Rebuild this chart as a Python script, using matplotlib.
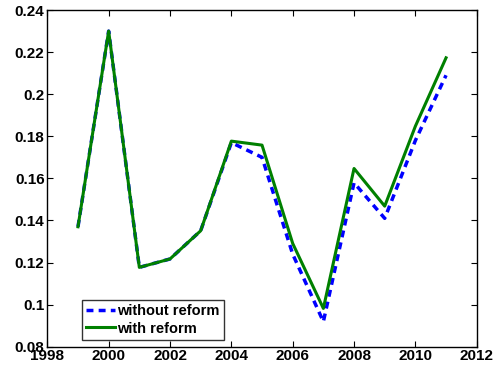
import matplotlib
matplotlib.use("Agg")
import matplotlib.pyplot as plt

years = [1999, 2000, 2001, 2002, 2003, 2004, 2005, 2006, 2007, 2008, 2009, 2010, 2011]
without_reform = [0.137, 0.230, 0.1177, 0.1217, 0.1351, 0.1770, 0.1700, 0.1240, 0.0919, 0.1579, 0.1410, 0.1780, 0.2090]
with_reform = [0.137, 0.230, 0.1177, 0.1217, 0.1351, 0.1777, 0.1758, 0.1291, 0.0982, 0.1647, 0.1468, 0.1848, 0.2173]
xticks = [1998, 2000, 2002, 2004, 2006, 2008, 2010, 2012]
yticks = [0.08, 0.1, 0.12, 0.14, 0.16, 0.18, 0.2, 0.22, 0.24]
ytick_labels = ["0.08", "0.1", "0.12", "0.14", "0.16", "0.18", "0.2", "0.22", "0.24"]

plt.rcParams['font.family'] = ['Liberation Sans', 'DejaVu Sans']
plt.rcParams['font.weight'] = 'bold'

fig = plt.figure(figsize=(4.97, 3.72), dpi=100)
ax = fig.add_axes([0.0952, 0.068, 0.8640, 0.905])

ax.plot(years, without_reform, color='#0000ff', linestyle=(0, (2, 1.5)), linewidth=2.5, label='without reform')
ax.plot(years, with_reform, color='#008000', linestyle='-', linewidth=2.2, label='with reform')

ax.set_xlim(1998, 2012)
ax.set_ylim(0.08, 0.24)
ax.set_xticks(xticks)
ax.set_xticklabels([str(x) for x in xticks])
ax.set_yticks(yticks)
ax.set_yticklabels(ytick_labels)
ax.tick_params(direction='in', top=True, right=True, length=4, width=0.8, labelsize=11, pad=2)
for lab in ax.get_xticklabels() + ax.get_yticklabels():
    lab.set_fontweight('bold')
for s in ax.spines.values():
    s.set_linewidth(1.0)

leg = ax.legend(loc='lower left', bbox_to_anchor=(0.080, 0.020), frameon=True, fancybox=False,
                edgecolor='black', fontsize=10.5, handlelength=2.0, handletextpad=0.15,
                borderpad=0.3, labelspacing=0.25, borderaxespad=0.0)
leg.get_frame().set_linewidth(1.0)
for t in leg.get_texts():
    t.set_fontweight('bold')

fig.savefig('out.png', dpi=100)
